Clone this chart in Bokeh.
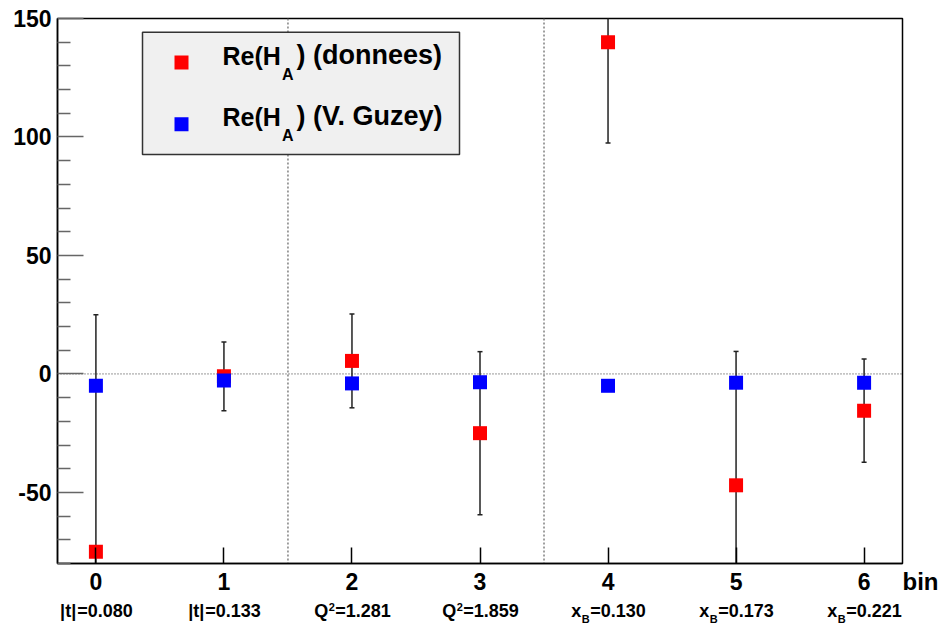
from bokeh.plotting import figure
from bokeh.models import Range1d, FixedTicker, Label, Span
from bokeh.core.properties import value
from bokeh.embed import file_html
from bokeh.resources import INLINE

# ---------------- data ----------------
bins = [0, 1, 2, 3, 4, 5, 6]
red_vals = [-75.0, -1.0, 5.5, -25.0, 140.0, -47.0, -15.5]      # Re(H_A) (donnees)
red_errs = [100.0, 14.5, 19.8, 34.4, 42.5, 56.5, 21.8]
blue_vals = [-5.0, -2.8, -4.0, -3.5, -5.0, -3.7, -3.7]          # Re(H_A) (V. Guzey)

x_tick_labels = ["0", "1", "2", "3", "4", "5", "6"]
y_major_ticks = [-50, 0, 50, 100, 150]
y_tick_labels = ["-50", "0", "50", "100", "150"]
y_minor_ticks = [-80, -70, -60, -40, -30, -20, -10, 10, 20, 30, 40, 60, 70, 80, 90,
                 110, 120, 130, 140]

kin_name = ["|t|", "|t|", "Q", "Q", "x", "x", "x"]
kin_sup = ["", "", "2", "2", "", "", ""]
kin_sub = ["", "", "", "", "B", "B", "B"]
kin_value = ["0.080", "0.133", "1.281", "1.859", "0.130", "0.173", "0.221"]

separators = [1.5, 3.5]
legend_names = ["(donnees)", "(V. Guzey)"]
legend_colors = ["#ff0000", "#0000ff"]

# ---------------- layout ----------------
FONT = "Liberation Sans"
XR = (-0.3, 6.3)
YR = (-80.0, 150.0)
W, H = 942, 627
FL, FR, FT, FB = 57, 902, 18, 563        # frame in canvas pixels
MID = 0.36                               # cap-centre above baseline, in em

def px_x(px):
    return XR[0] + (px - FL) * (XR[1] - XR[0]) / (FR - FL)

def px_y(py):
    return YR[1] - (py - FT) * (YR[1] - YR[0]) / (FB - FT)

p = figure(width=W, height=H, output_backend="svg", toolbar_location=None,
           x_range=Range1d(*XR), y_range=Range1d(*YR))
p.min_border_left = FL
p.min_border_right = W - FR
p.min_border_top = FT
p.min_border_bottom = H - FB
p.grid.visible = False
p.background_fill_color = "white"
p.border_fill_color = "white"
p.outline_line_color = "black"
p.outline_line_width = 1.5

# x axis
xa = p.xaxis[0]
xa.ticker = FixedTicker(ticks=bins, minor_ticks=[])
xa.major_label_overrides = {b: s for b, s in zip(bins, x_tick_labels)}
xa.major_tick_in = 16
xa.major_tick_out = 0
xa.minor_tick_in = 0
xa.minor_tick_out = 0
xa.major_tick_line_color = "black"
xa.major_tick_line_width = 1.5
xa.axis_line_color = "black"
xa.axis_line_width = 1.5
xa.major_label_text_font = FONT
xa.major_label_text_font_style = "bold"
xa.major_label_text_font_size = "23px"
xa.major_label_text_color = "black"
xa.major_label_standoff = 9

# y axis
ya = p.yaxis[0]
ya.ticker = FixedTicker(ticks=y_major_ticks, minor_ticks=y_minor_ticks)
ya.major_label_overrides = {t: s for t, s in zip(y_major_ticks, y_tick_labels)}
ya.major_tick_in = 26
ya.major_tick_out = 0
ya.minor_tick_in = 13
ya.minor_tick_out = 0
ya.major_tick_line_color = "#666666"
ya.minor_tick_line_color = "#666666"
ya.major_tick_line_width = 1.5
ya.minor_tick_line_width = 1.5
ya.axis_line_color = "black"
ya.axis_line_width = 1.5
ya.major_label_text_font = FONT
ya.major_label_text_font_style = "bold"
ya.major_label_text_font_size = "23px"
ya.major_label_text_color = "black"
ya.major_label_standoff = 6

# separators and zero line
for s in separators:
    p.add_layout(Span(location=s, dimension="height", line_color="#808080",
                      line_width=1.5, line_dash="2 2", level="underlay"))
p.add_layout(Span(location=0, dimension="width", line_color="#333333",
                  line_width=1, line_dash="1 2", level="underlay"))

# error bars
lo = [v - e for v, e in zip(red_vals, red_errs)]
hi = [v + e for v, e in zip(red_vals, red_errs)]
p.segment(x0=bins, y0=lo, x1=bins, y1=hi, line_color="#222222", line_width=1.5)
p.scatter(x=bins, y=hi, marker="dash", size=5, line_color="#222222", line_width=1.5)
p.scatter(x=bins, y=lo, marker="dash", size=5, line_color="#222222", line_width=1.5)

# points
p.scatter(x=bins, y=red_vals, marker="square", size=14, fill_color=legend_colors[0],
          line_color=None)
p.scatter(x=bins, y=blue_vals, marker="square", size=14, fill_color=legend_colors[1],
          line_color=None)

# ---------------- legend ----------------
p.quad(left=[px_x(142)], right=[px_x(459)], top=[px_y(31.7)], bottom=[px_y(154)],
       fill_color="#f0f0f0", line_color="#333333", line_width=1.5)

def add_label(text, px, base, size):
    cy = base - MID * size
    p.add_layout(Label(x=XR[0], y=YR[1], x_offset=px - FL, y_offset=FT - cy,
                       text=text, text_font=FONT, text_font_style="bold",
                       text_font_size=f"{size}px", text_color="black",
                       text_align="left", text_baseline="middle"))

line_base = [64.0, 125.7]
for name, col, by in zip(legend_names, legend_colors, line_base):
    p.scatter(x=[px_x(181)], y=[px_y(by - 2)], marker="square", size=14,
              fill_color=col, line_color=None)
    add_label("Re(H", 222, by, 25)
    add_label("A", 281.5, by + 15.5, 16)
    add_label(") " + name, 296, by, 27)

# ---------------- texts below the frame (unclipped overlay text) ----------------
ADV = {'|': 280, 't': 333, 'Q': 778, 'x': 556, 'B': 722, '=': 584, '.': 278}
for d in "0123456789":
    ADV[d] = 556

def tw(s, size):
    return sum(ADV.get(c, 556) for c in s) * size / 1000.0

out_x, out_y, out_t, out_s = [], [], [], []

def put(text, px, base, size):
    out_x.append(px_x(px)); out_y.append(px_y(base - MID * size))
    out_t.append(text); out_s.append(f"{size}px")

MAIN, SMALL = 18, 11
BASE = 617
for b, nm, sup, sub, val in zip(bins, kin_name, kin_sup, kin_sub, kin_value):
    rest = "=" + val
    total = tw(nm, MAIN) + tw(sup + sub, SMALL) + tw(rest, MAIN)
    cx = FL + (b - XR[0]) * (FR - FL) / (XR[1] - XR[0])
    x0 = cx - total / 2
    put(nm, x0, BASE, MAIN)
    x1 = x0 + tw(nm, MAIN)
    if sup:
        put(sup, x1 + 0.5, BASE - 7, SMALL)
    if sub:
        put(sub, x1 + 0.5, BASE + 5, SMALL)
    x2 = x1 + tw(sup + sub, SMALL) + 1
    put(rest, x2, BASE, MAIN)

put("bin", 902, 589.5, 24)

p.text(x=out_x, y=out_y, text=out_t, text_font_size=out_s, text_font=value(FONT),
       text_font_style="bold", text_color="black", text_align="left",
       text_baseline="middle", level="overlay")

open("out.html", "w").write(file_html(p, INLINE))
